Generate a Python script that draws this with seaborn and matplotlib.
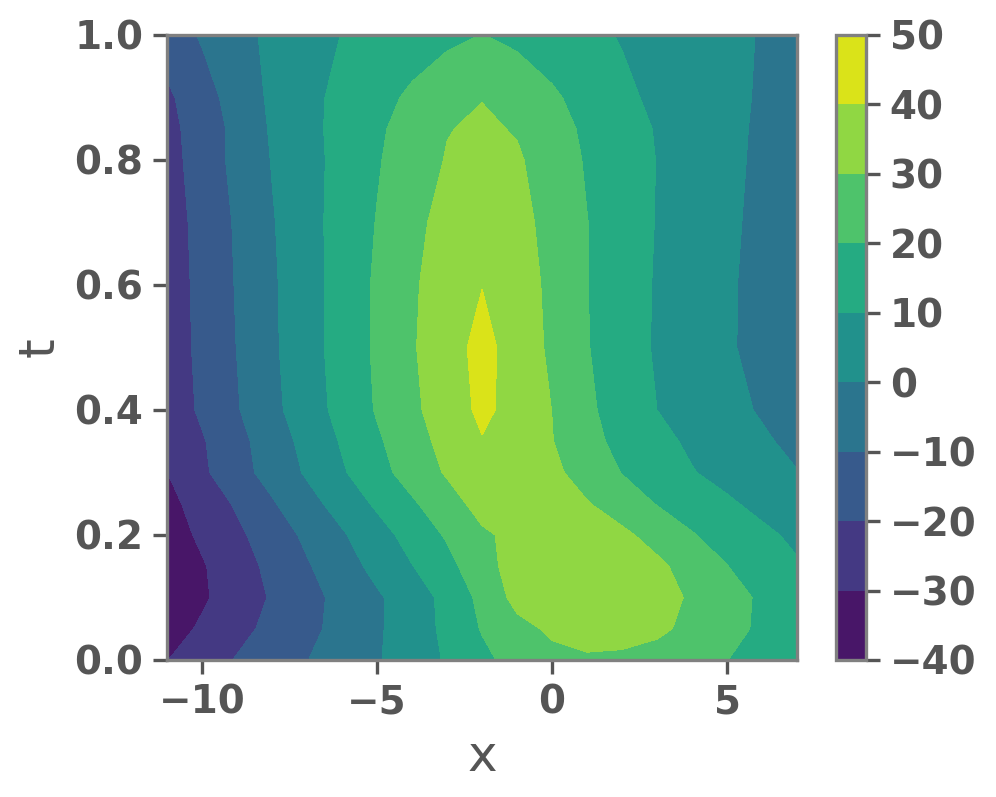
import numpy as np
import matplotlib
matplotlib.use("Agg")
import matplotlib.pyplot as plt
import seaborn as sns

# grid
x_vals = np.arange(-11, 8, 1)
t_vals = [0.0, 0.05, 0.1, 0.15, 0.2, 0.25, 0.3, 0.35, 0.4, 0.5, 0.6, 0.7, 0.8, 0.85, 0.9, 1.0]

# u(x, t) rows, one per t value (x from -11 to 7)
u_t000 = [-30.2, -24.7, -19.3, -14.8, -10.2, -5.5, -0.8, 4.9, 11.0, 17.4, 24.0, 27.5, 29.0, 28.5, 27.0, 24.5, 20.1, 17.0, 14.5]
u_t005 = [-34.3, -28.6, -22.9, -17.5, -12.4, -7.0, -1.3, 5.1, 12.2, 20.7, 27.2, 31.5, 33.0, 33.0, 31.5, 28.1, 23.2, 18.3, 14.2]
u_t010 = [-37.6, -31.4, -25.2, -19.1, -13.1, -7.2, -1.3, 5.2, 12.7, 22.6, 33.0, 35.0, 36.0, 35.0, 33.0, 29.0, 23.8, 18.5, 14.0]
u_t015 = [-37.5, -30.9, -24.2, -17.6, -10.9, -4.1, 2.7, 9.7, 17.0, 26.4, 34.0, 35.5, 36.0, 35.0, 32.0, 26.1, 20.2, 15.2, 11.0]
u_t020 = [-34.7, -28.3, -21.9, -15.1, -8.1, -1.1, 6.2, 13.6, 21.1, 28.5, 32.5, 34.5, 34.0, 32.0, 26.5, 20.6, 16.2, 12.1, 8.0]
u_t025 = [-32.9, -25.9, -18.8, -11.0, -3.5, 4.0, 11.5, 18.7, 25.9, 33.5, 35.5, 32.8, 30.6, 25.2, 19.6, 15.5, 11.5, 7.3, 3.0]
u_t030 = [-30.1, -21.8, -13.5, -6.5, 1.2, 8.9, 16.7, 24.0, 31.0, 36.0, 36.5, 32.2, 25.9, 19.7, 15.1, 10.5, 6.8, 3.2, 0.3]
u_t035 = [-28.8, -20.9, -13.0, -5.0, 3.0, 10.9, 18.6, 26.2, 33.0, 39.5, 36.5, 30.3, 23.0, 17.3, 12.6, 8.4, 4.9, 1.3, -2.3]
u_t040 = [-26.2, -18.4, -10.7, -2.5, 5.3, 13.1, 20.8, 28.0, 35.0, 42.0, 36.7, 29.9, 21.8, 15.6, 10.0, 6.3, 2.7, -0.9, -4.5]
u_t050 = [-25.6, -17.6, -9.8, -1.6, 6.2, 13.9, 21.5, 29.1, 35.9, 43.0, 35.9, 28.2, 20.5, 14.4, 9.0, 5.0, 1.1, -2.8, -6.5]
u_t060 = [-25.3, -17.3, -9.3, -1.4, 6.4, 13.5, 21.5, 28.8, 34.5, 39.8, 36.0, 27.2, 20.2, 14.5, 9.2, 5.2, 1.2, -2.8, -6.8]
u_t070 = [-24.8, -16.8, -8.8, -0.7, 6.6, 13.7, 20.4, 27.2, 33.5, 37.5, 33.0, 27.0, 20.2, 14.8, 9.6, 5.6, 1.7, -2.3, -6.2]
u_t080 = [-23.8, -15.5, -7.3, 0.4, 6.3, 13.4, 19.2, 24.9, 30.6, 33.5, 31.2, 25.3, 19.1, 14.4, 9.8, 6.0, 2.1, -1.7, -5.5]
u_t085 = [-23.0, -15.4, -7.4, 1.1, 7.3, 13.0, 18.5, 23.8, 29.6, 31.5, 29.3, 23.5, 18.4, 13.8, 9.4, 5.8, 2.2, -1.4, -5.0]
u_t090 = [-21.8, -14.0, -5.9, 1.7, 7.4, 12.5, 17.0, 21.6, 26.3, 29.7, 26.1, 21.4, 16.7, 11.9, 8.2, 5.2, 2.1, -0.9, -4.0]
u_t100 = [-15.0, -9.0, -3.0, 2.0, 6.0, 10.2, 12.7, 15.3, 17.8, 20.2, 17.8, 15.0, 12.1, 9.4, 6.9, 4.4, 2.0, -0.5, -3.5]

levels = np.arange(-40, 51, 10)

u = np.array([u_t000, u_t005, u_t010, u_t015, u_t020, u_t025, u_t030, u_t035,
              u_t040, u_t050, u_t060, u_t070, u_t080, u_t085, u_t090, u_t100])

sns.set_style("ticks")
grey = "#555555"
plt.rcParams.update({
    "font.family": ["DejaVu Sans"],
    "text.color": grey,
    "axes.labelcolor": grey,
    "xtick.color": grey,
    "ytick.color": grey,
    "axes.edgecolor": "#808080",
})

fig = plt.figure(figsize=(4.98, 3.985), dpi=200)
ax = fig.add_axes([0.1677, 0.1719, 0.6325, 0.7842])
cax = fig.add_axes([0.8394, 0.1719, 0.0301, 0.7842])

X, T = np.meshgrid(x_vals, t_vals)
cs = ax.contourf(X, T, u, levels=levels, cmap="viridis")
cb = fig.colorbar(cs, cax=cax)
cb.set_ticks(levels)

ax.set_xlim(-11, 7)
ax.set_ylim(0, 1)
ax.set_xticks([-10, -5, 0, 5])
ax.set_yticks([0, 0.2, 0.4, 0.6, 0.8, 1.0])
ax.set_xlabel("x", fontsize=18)
ax.set_ylabel("t", fontsize=18)

for a in (ax, cax):
    a.tick_params(labelsize=14, width=1.2, length=5)
    for lab in a.get_xticklabels() + a.get_yticklabels():
        lab.set_fontweight("bold")
    for s in a.spines.values():
        s.set_linewidth(1.2)
        s.set_color("#808080")
cb.outline.set_edgecolor("#808080")
cb.outline.set_linewidth(1.2)

fig.savefig("out.png", dpi=200)
